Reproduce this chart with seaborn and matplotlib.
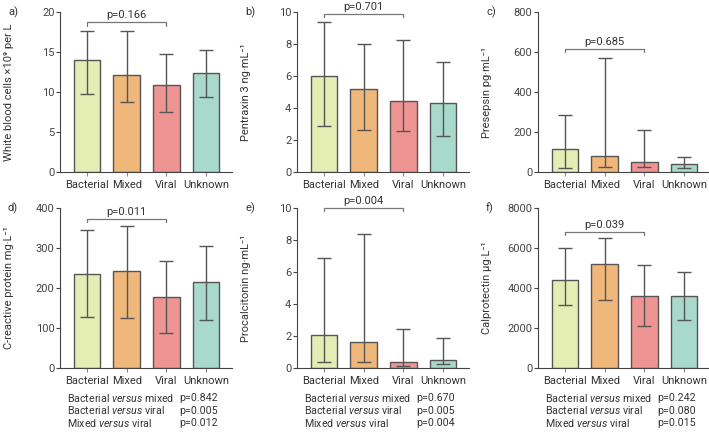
import matplotlib
matplotlib.use("Agg")
import matplotlib.pyplot as plt
import seaborn as sns
import pandas as pd

sns.set_style("ticks")
plt.rcParams['font.family'] = ['Roboto', 'DejaVu Sans']
plt.rcParams['mathtext.fontset'] = 'custom'
plt.rcParams['mathtext.rm'] = 'Roboto'
plt.rcParams['mathtext.it'] = 'Roboto:italic'

# groups and colours
groups = ["Bacterial", "Mixed", "Viral", "Unknown"]
colors = ["#e4edb4", "#f0b77b", "#ee9593", "#a9d9ca"]

# panel data: median, lower, upper
wbc_mid = [14.0, 12.1, 10.9, 12.4]
wbc_lo = [9.7, 8.8, 7.5, 9.4]
wbc_hi = [17.6, 17.6, 14.8, 15.3]

ptx_mid = [6.0, 5.2, 4.45, 4.3]
ptx_lo = [2.85, 2.65, 2.55, 2.25]
ptx_hi = [9.35, 8.0, 8.25, 6.85]

pre_mid = [113, 78, 48, 42]
pre_lo = [20, 25, 25, 20]
pre_hi = [283, 572, 212, 75]

crp_mid = [235, 242, 177, 214]
crp_lo = [128, 125, 87, 120]
crp_hi = [345, 354, 268, 306]

pct_mid = [2.05, 1.65, 0.35, 0.5]
pct_lo = [0.35, 0.35, 0.15, 0.22]
pct_hi = [6.9, 8.4, 2.45, 1.9]

cal_mid = [4400, 5200, 3620, 3620]
cal_lo = [3150, 3420, 2100, 2380]
cal_hi = [5980, 6520, 5150, 4800]

panels = [
    ("a)", "White blood cells \u00d710\u2079 per L", wbc_mid, wbc_lo, wbc_hi, 20, 5, "p=0.166", 18.7, None),
    ("b)", "Pentraxin 3 ng\u00b7mL\u207b\u00b9", ptx_mid, ptx_lo, ptx_hi, 10, 2, "p=0.701", 9.9, None),
    ("c)", "Presepsin pg\u00b7mL\u207b\u00b9", pre_mid, pre_lo, pre_hi, 800, 200, "p=0.685", 615, None),
    ("d)", "C-reactive protein mg\u00b7L\u207b\u00b9", crp_mid, crp_lo, crp_hi, 400, 100, "p=0.011", 372,
     ["p=0.842", "p=0.005", "p=0.012"]),
    ("e)", "Procalcitonin ng\u00b7mL\u207b\u00b9", pct_mid, pct_lo, pct_hi, 10, 2, "p=0.004", 10.0,
     ["p=0.670", "p=0.005", "p=0.004"]),
    ("f)", "Calprotectin \u00b5g\u00b7L\u207b\u00b9", cal_mid, cal_lo, cal_hi, 8000, 2000, "p=0.039", 6800,
     ["p=0.242", "p=0.080", "p=0.015"]),
]

comparisons = [r"Bacterial $\it{versus}$ mixed",
               r"Bacterial $\it{versus}$ viral",
               r"Mixed $\it{versus}$ viral"]

W, H = 709, 437
fig = plt.figure(figsize=(W / 100, H / 100), dpi=100)

lefts = [60, 297, 538]
bottoms = [172, 368]
fs = 8.0

for i, (lab, ylab, mid, lo, hi, ymax, step, ptxt, py, pvals) in enumerate(panels):
    r, c = divmod(i, 3)
    ax = fig.add_axes([lefts[c] / W, 1 - bottoms[r] / H, 172 / W, 160 / H])
    df = pd.DataFrame({"group": groups, "value": mid})
    sns.barplot(data=df, x="group", y="value", hue="group", palette=colors, saturation=1,
                legend=False, width=0.67, edgecolor="#555555", linewidth=1, ax=ax)
    err_lo = [m - l for m, l in zip(mid, lo)]
    err_hi = [h - m for m, h in zip(mid, hi)]
    ax.errorbar(range(len(groups)), mid, yerr=[err_lo, err_hi], fmt="none",
                ecolor="#555555", elinewidth=1, capsize=4.7, capthick=1)
    ax.set_xlim(-0.68, 3.65)
    ax.set_ylim(0, ymax)
    ax.set_yticks(range(0, ymax + 1, step))
    ax.set_xlabel("")
    ax.set_ylabel(ylab, fontsize=fs, color="#333333")
    ax.yaxis.set_label_coords(-0.27, 0.5)
    sns.despine(ax=ax)
    ax.spines["left"].set_color("#444444")
    ax.spines["bottom"].set_color("#444444")
    ax.tick_params(axis="y", length=3, width=0.8, labelsize=fs, colors="#444444", pad=1)
    ax.tick_params(axis="x", length=3, width=0.8, labelsize=fs, colors="#888888", pad=3,
                   labelcolor="#333333")
    # bracket
    d = ymax * 0.02
    ax.plot([0, 0, 2, 2], [py - d, py, py, py - d], color="#777777", lw=0.9, clip_on=False)
    ax.text(1, py + ymax * 0.012, ptxt, ha="center", va="bottom", fontsize=fs, color="#333333")
    fig.text((lefts[c] - 52) / W, 1 - (bottoms[r] - 160) / H, lab, fontsize=fs,
             ha="left", va="center", color="#333333")
    if pvals:
        for k, (cmp_txt, pv) in enumerate(zip(comparisons, pvals)):
            yy = 1 - (bottoms[r] + 30 + k * 12.5) / H
            fig.text((lefts[c] + 7) / W, yy, cmp_txt, fontsize=7.7, va="center", color="#333333")
            fig.text((lefts[c] + 119) / W, yy, pv, fontsize=7.7, va="center", color="#333333")

fig.savefig("out.png", dpi=100)
